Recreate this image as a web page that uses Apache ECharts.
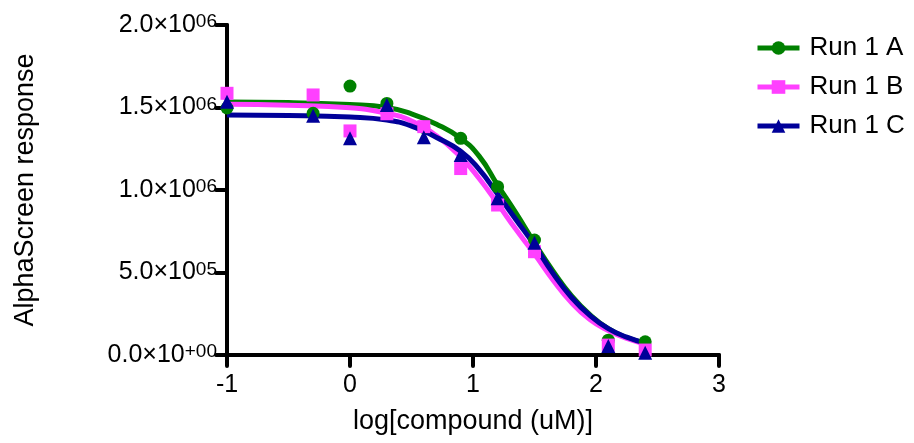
<!DOCTYPE html>
<html>
<head>
<meta charset="utf-8">
<script src="https://cdn.jsdelivr.net/npm/echarts@6.0.0/dist/echarts.min.js"></script>
<style>
  html, body { margin: 0; padding: 0; background: #fff; }
  #chart { width: 914px; height: 443px; }
</style>
</head>
<body>
<div id="chart"></div>
<script>
// measured points, x = log[compound (uM)]
const pointX = [-1, -0.3, 0, 0.3, 0.6, 0.9, 1.2, 1.5, 2.1, 2.4];
const run1A = [1497000, 1465000, 1630000, 1525000, 1380000, 1313000, 1020000, 697000, 90000, 80000];
const run1B = [1586000, 1576000, 1358000, 1462000, 1384000, 1130000, 909000, 626000, 60000, 30000];
const run1C = [1535000, 1450000, 1313000, 1515000, 1320000, 1212000, 950000, 680000, 55000, 14000];

// fitted curves
const curveX = [-1, -0.5, 0, 0.3, 0.5, 0.7, 0.9, 1.05, 1.2, 1.35, 1.5, 1.65, 1.8, 1.95, 2.1, 2.25, 2.4];
const fitA = [1533000, 1530000, 1518000, 1500000, 1462000, 1400000, 1313000, 1205000, 1030000, 860000, 680000, 510000, 360000, 245000, 160000, 105000, 72000];
const fitB = [1520000, 1514000, 1498000, 1465000, 1418000, 1330000, 1200000, 1070000, 918000, 760000, 612000, 455000, 318000, 215000, 148000, 100000, 67000];
const fitC = [1455000, 1452000, 1442000, 1424000, 1387000, 1320000, 1235000, 1125000, 975000, 820000, 665000, 495000, 350000, 240000, 160000, 108000, 72000];

const seriesNames = ["Run 1 A", "Run 1 B", "Run 1 C"];
const yMantissa = ["0.0", "5.0", "1.0", "1.5", "2.0"];
const yExponent = ["+00", "05", "06", "06", "06"];

const colors = ["#008000", "#ff40ff", "#000099"];
const symbols = ["circle", "rect", "triangle"];
const font = "Liberation Sans, Arial, sans-serif";

const zip = (xs, ys) => xs.map((x, i) => [x, ys[i]]);
const points = [run1A, run1B, run1C];
const fits = [fitA, fitB, fitC];

const chart = echarts.init(document.getElementById("chart"));

const series = [];
seriesNames.forEach((name, i) => {
  series.push({
    name: name,
    type: "line",
    data: zip(curveX, fits[i]),
    smooth: true,
    symbol: symbols[i],
    symbolSize: 13,
    showSymbol: false,
    itemStyle: { color: colors[i] },
    lineStyle: { color: colors[i], width: 5 },
    emphasis: { disabled: true },
    z: 2,
  });
});
seriesNames.forEach((name, i) => {
  series.push({
    name: name,
    type: "scatter",
    data: zip(pointX, points[i]),
    symbol: symbols[i],
    symbolSize: symbols[i] === "triangle" ? 14 : 13,
    itemStyle: { color: colors[i], opacity: 1 },
    emphasis: { disabled: true },
    z: 3,
  });
});

const option = {
  animation: false,
  textStyle: { fontFamily: font, color: "#000" },
  grid: {
    left: 227,
    top: 25,
    right: 195,
    bottom: 88,
    containLabel: false,
    outerBoundsMode: "none",
  },
  legend: {
    data: seriesNames,
    orient: "vertical",
    left: 750,
    top: 30,
    itemWidth: 42,
    itemHeight: 17,
    itemGap: 13,
    lineStyle: { width: 5 },
    textStyle: { fontSize: 26, color: "#000", fontFamily: font, padding: [0, 0, 0, 5] },
  },
  xAxis: {
    type: "value",
    min: -1,
    max: 3,
    interval: 1,
    name: "log[compound (uM)]",
    nameLocation: "middle",
    nameGap: 53,
    nameTextStyle: { fontSize: 27, color: "#000", fontFamily: font },
    axisLine: { onZero: false, lineStyle: { color: "#000", width: 4 } },
    axisTick: { length: 11, lineStyle: { color: "#000", width: 4, cap: "round" } },
    axisLabel: { fontSize: 25, color: "#000", margin: 18, fontFamily: font },
    splitLine: { show: false },
  },
  yAxis: {
    type: "value",
    min: 0,
    max: 2000000,
    interval: 500000,
    name: "AlphaScreen response",
    nameLocation: "middle",
    nameGap: 188,
    nameTextStyle: { fontSize: 27, color: "#000", fontFamily: font },
    axisLine: { onZero: false, lineStyle: { color: "#000", width: 4 } },
    axisTick: { length: 11, lineStyle: { color: "#000", width: 4, cap: "round" } },
    axisLabel: {
      margin: 10,
      formatter: (v, i) => `{m|${yMantissa[i]}×10}{e|${yExponent[i]}}`,
      rich: {
        m: { fontSize: 25, color: "#000", fontFamily: font },
        e: { fontSize: 19, color: "#000", fontFamily: font, verticalAlign: "top", padding: [0, 0, 4, 0] },
      },
    },
    splitLine: { show: false },
  },
  series: series,
};

chart.setOption(option);
</script>
</body>
</html>
